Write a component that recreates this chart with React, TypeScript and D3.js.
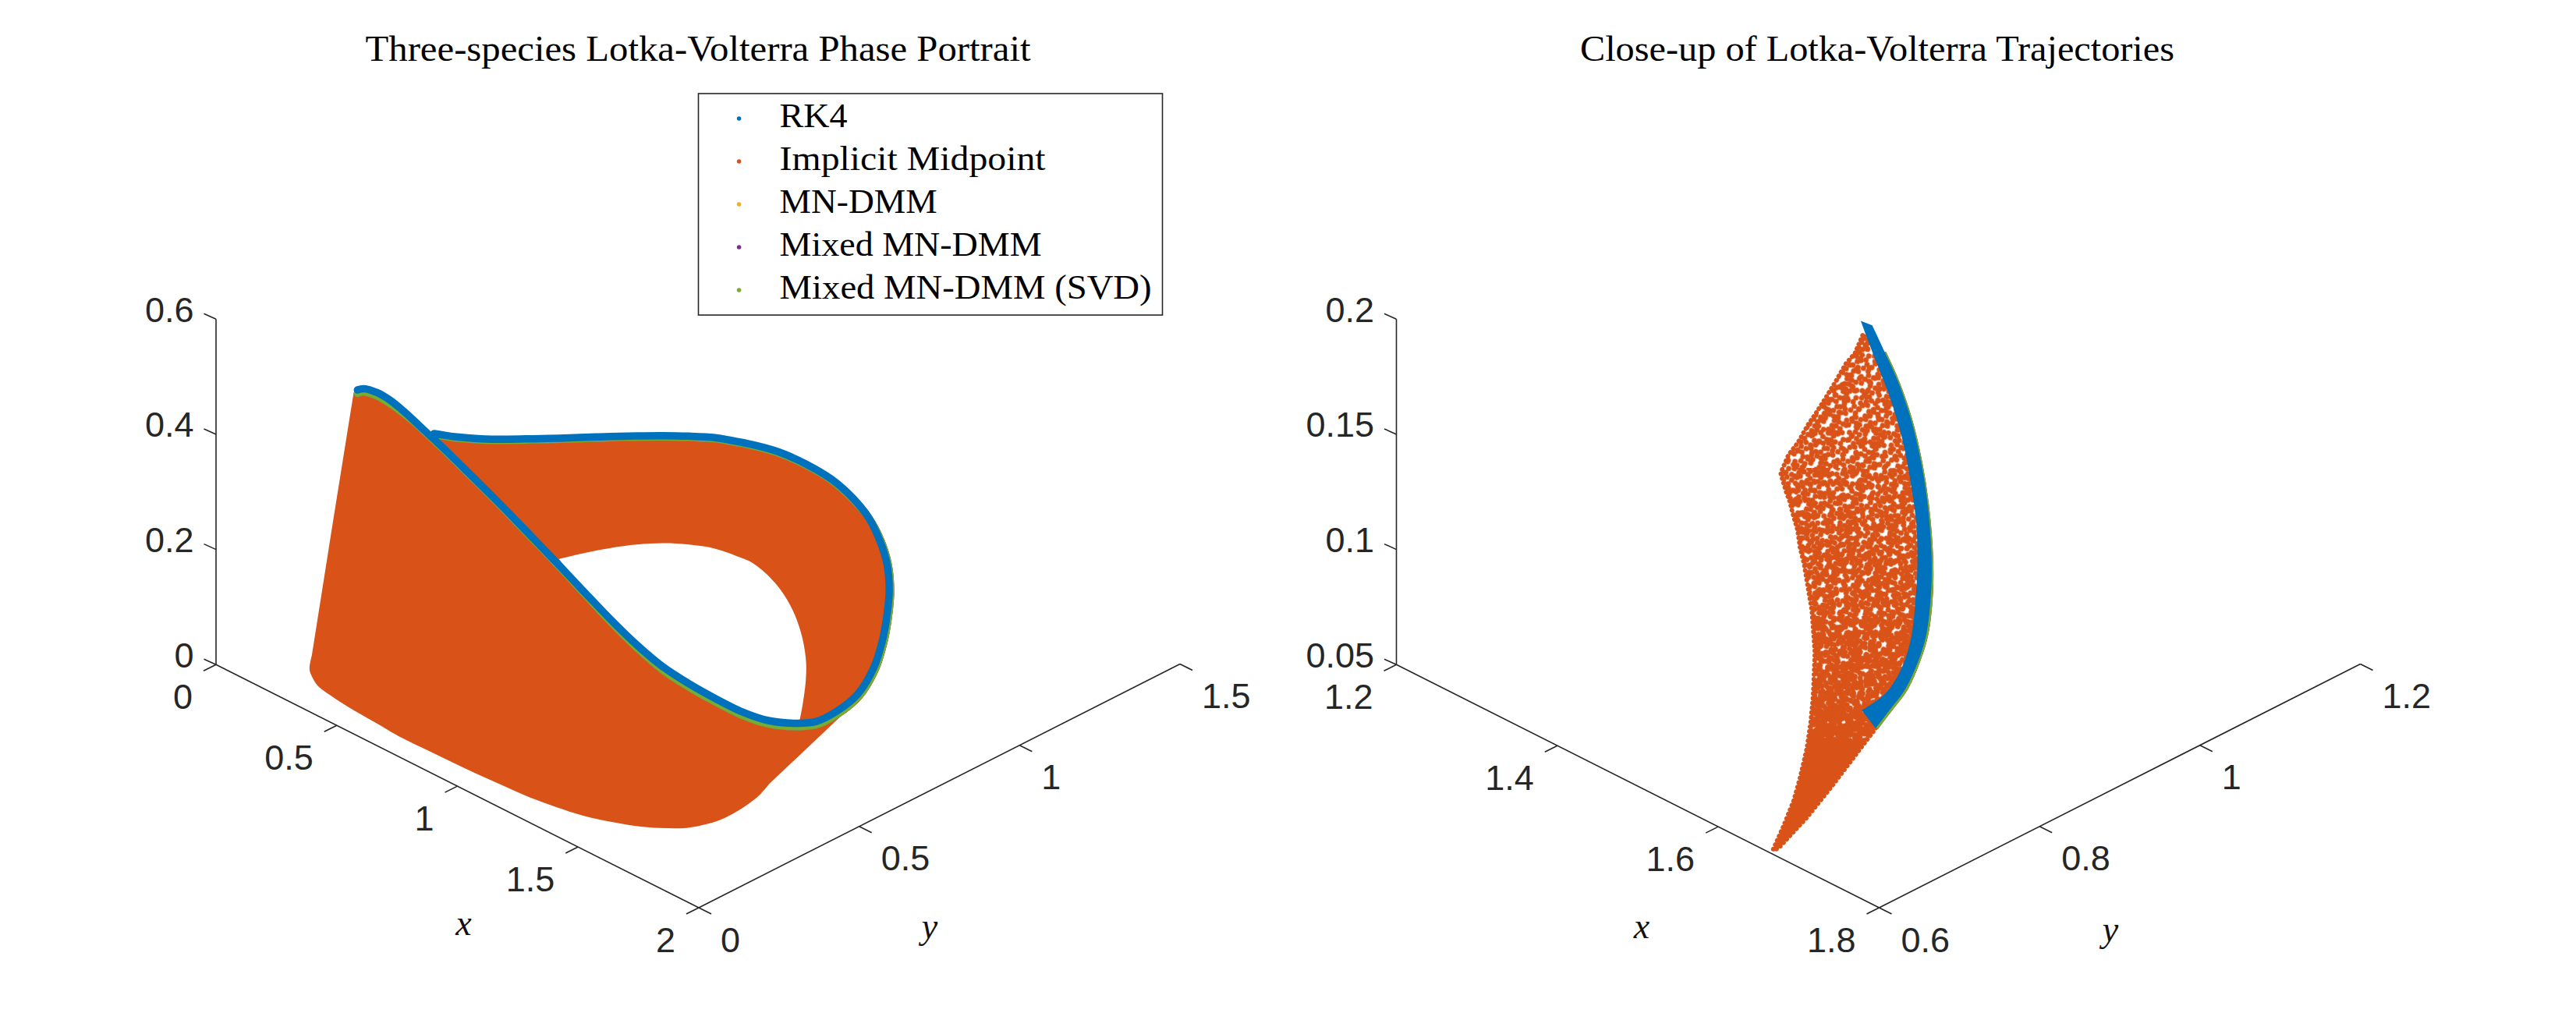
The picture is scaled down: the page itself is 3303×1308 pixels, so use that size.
import React from "react";
import * as d3 from "d3";

const xTicksL = [0, 0.5, 1, 1.5, 2];
const yTicksL = [0, 0.5, 1, 1.5];
const zTicksL = [0, 0.2, 0.4, 0.6];
const xTicksR = [1.2, 1.4, 1.6, 1.8];
const yTicksR = [0.6, 0.8, 1, 1.2];
const zTicksR = [0.05, 0.1, 0.15, 0.2];

const legendNames = ["RK4", "Implicit Midpoint", "MN-DMM", "Mixed MN-DMM", "Mixed MN-DMM (SVD)"];
const legendColors = ["#0072BD", "#D95319", "#EDB120", "#7E2F8E", "#77AC30"];
const legendWidths = [87, 341, 202, 336, 477];

// Left panel: RK4 orbit
const rk4X = [0.348, 0.356, 0.352, 0.34, 0.339, 0.343, 0.349, 0.355, 0.419, 0.509, 0.543, 0.635, 0.73, 0.825, 0.919, 1.03, 1.149, 1.249, 1.34, 1.423, 1.495, 1.568, 1.61, 1.622, 1.619, 1.569, 1.527, 1.466, 1.4, 1.335, 1.272, 1.199, 1.134, 1.075, 1.016, 0.973, 0.949, 0.92, 0.92, 0.895, 0.875, 0.857, 0.841, 0.826, 0.811, 0.783, 0.754, 0.71, 0.659, 0.615];
const rk4Y = [0.179, 0.193, 0.237, 0.287, 0.328, 0.365, 0.401, 0.437, 0.47, 0.484, 0.499, 0.51, 0.52, 0.529, 0.539, 0.537, 0.528, 0.534, 0.547, 0.565, 0.597, 0.635, 0.66, 0.716, 0.782, 0.869, 0.927, 0.988, 1.045, 1.087, 1.112, 1.131, 1.131, 1.111, 1.074, 1.025, 0.963, 0.903, 0.863, 0.8, 0.735, 0.667, 0.598, 0.529, 0.459, 0.399, 0.339, 0.291, 0.248, 0.217];
const rk4Z = [0.5, 0.5, 0.48, 0.45, 0.42, 0.39, 0.36, 0.33, 0.29, 0.26, 0.24, 0.21, 0.18, 0.15, 0.12, 0.1, 0.09, 0.08, 0.07, 0.06, 0.05, 0.05, 0.055, 0.06, 0.07, 0.08, 0.1, 0.115, 0.13, 0.15, 0.17, 0.19, 0.21, 0.235, 0.26, 0.285, 0.31, 0.33, 0.345, 0.36, 0.375, 0.39, 0.405, 0.42, 0.435, 0.445, 0.455, 0.46, 0.465, 0.47];
// Left panel: MN-DMM family, just under the RK4 orbit
const dmmX = rk4X;
const dmmY = [0.179, 0.193, 0.237, 0.287, 0.328, 0.365, 0.401, 0.437, 0.47, 0.484, 0.499, 0.51, 0.52, 0.529, 0.539, 0.537, 0.528, 0.534, 0.547, 0.565, 0.597, 0.635, 0.66, 0.716, 0.786, 0.873, 0.931, 0.992, 1.049, 1.091, 1.116, 1.133, 1.131, 1.111, 1.074, 1.025, 0.963, 0.903, 0.863, 0.8, 0.735, 0.667, 0.598, 0.529, 0.459, 0.399, 0.339, 0.291, 0.248, 0.217];
const dmmZ = [0.494, 0.494, 0.474, 0.444, 0.416, 0.388, 0.358, 0.328, 0.288, 0.258, 0.238, 0.208, 0.178, 0.147, 0.116, 0.095, 0.084, 0.074, 0.064, 0.054, 0.044, 0.044, 0.049, 0.054, 0.065, 0.075, 0.095, 0.11, 0.126, 0.147, 0.168, 0.188, 0.208, 0.233, 0.258, 0.283, 0.308, 0.328, 0.343, 0.358, 0.373, 0.388, 0.403, 0.418, 0.433, 0.443, 0.453, 0.458, 0.463, 0.468];
// Left panel: Implicit Midpoint swept surface, outer boundary and inner hole
const impX = [0.29, 0.285, 0.25, 0.231, 0.237, 0.251, 0.301, 0.363, 0.449, 0.565, 0.679, 0.787, 0.891, 0.996, 1.098, 1.198, 1.291, 1.38, 1.458, 1.53, 1.593, 1.647, 1.668, 1.685, 1.679, 1.665, 1.638, 1.507, 1.619, 1.569, 1.527, 1.466, 1.4, 1.335, 1.272, 1.199, 1.134, 1.075, 1.016, 0.973, 0.949, 0.92, 0.92, 0.895, 0.875, 0.857, 0.841, 0.826, 0.811, 0.783, 0.754, 0.71, 0.659, 0.615, 0.349, 0.343, 0.339, 0.34, 0.352, 0.356];
const impY = [0.22, 0.214, 0.176, 0.125, 0.113, 0.111, 0.092, 0.083, 0.075, 0.069, 0.063, 0.064, 0.066, 0.068, 0.073, 0.078, 0.089, 0.104, 0.126, 0.153, 0.186, 0.227, 0.259, 0.312, 0.389, 0.44, 0.493, 0.818, 0.782, 0.869, 0.927, 0.988, 1.045, 1.087, 1.112, 1.131, 1.131, 1.111, 1.074, 1.025, 0.963, 0.903, 0.863, 0.8, 0.735, 0.667, 0.598, 0.529, 0.459, 0.399, 0.339, 0.291, 0.248, 0.217, 0.401, 0.365, 0.328, 0.287, 0.237, 0.193];
const impZ = [0.475, 0.47, 0.25, 0.03, 0.01, 0, 0, 0, 0, 0, 0, 0, 0, 0, 0, 0, 0, 0, 0, 0, 0, 0, 0, 0, 0, 0, 0, 0, 0.07, 0.08, 0.1, 0.115, 0.13, 0.15, 0.17, 0.19, 0.21, 0.235, 0.26, 0.285, 0.31, 0.33, 0.345, 0.36, 0.375, 0.39, 0.405, 0.42, 0.435, 0.445, 0.455, 0.46, 0.465, 0.47, 0.36, 0.39, 0.42, 0.45, 0.48, 0.5];
const holeX = [0.704, 0.757, 0.814, 0.854, 0.903, 0.962, 1.032, 1.1, 1.13, 1.224, 1.282, 1.339, 1.409, 1.471, 1.524, 1.558, 1.495, 1.423, 1.34, 1.249, 1.149, 1.03, 0.919, 0.825];
const holeY = [0.539, 0.581, 0.618, 0.669, 0.714, 0.75, 0.778, 0.808, 0.827, 0.82, 0.826, 0.815, 0.778, 0.732, 0.682, 0.647, 0.597, 0.565, 0.547, 0.534, 0.528, 0.537, 0.539, 0.529];
const holeZ = [0.18, 0.19, 0.2, 0.2, 0.2, 0.2, 0.2, 0.19, 0.18, 0.17, 0.14, 0.11, 0.09, 0.08, 0.06, 0.05, 0.05, 0.06, 0.07, 0.08, 0.09, 0.1, 0.12, 0.15];

// Right panel: close-up, RK4 band edges
const closeOuterX = [1.4865, 1.4966, 1.5188, 1.5268, 1.535, 1.5414, 1.5455, 1.5479, 1.5476, 1.5447, 1.5398, 1.547, 1.563, 1.5771];
const closeOuterY = [0.8916, 0.8958, 0.8892, 0.8972, 0.9053, 0.9118, 0.9158, 0.9183, 0.9179, 0.915, 0.9102, 0.8867, 0.8512, 0.8192];
const closeOuterZ = [0.1982, 0.1973, 0.1907, 0.1783, 0.1619, 0.1428, 0.1247, 0.1021, 0.0863, 0.0683, 0.057, 0.05, 0.05, 0.05];
const closeInnerX = [1.5461, 1.5406, 1.5237, 1.5302, 1.5334, 1.5342, 1.5337, 1.5302, 1.5253, 1.5172, 1.5091, 1.5026];
const closeInnerY = [0.8331, 0.8673, 0.9037, 0.9101, 0.9134, 0.9142, 0.9137, 0.9101, 0.9053, 0.8972, 0.8891, 0.8826];
const closeInnerZ = [0.05, 0.05, 0.0508, 0.0643, 0.0846, 0.0948, 0.114, 0.132, 0.1501, 0.1693, 0.184, 0.1958];
// Right panel: MN-DMM family, along the outer edge of the RK4 band
const closeDmmX = [1.5188, 1.5268, 1.535, 1.5414, 1.5455, 1.5481, 1.5481, 1.5452, 1.5403, 1.5478, 1.5638, 1.5779];
const closeDmmY = [0.8892, 0.8972, 0.9053, 0.9118, 0.9158, 0.9185, 0.9184, 0.9155, 0.9107, 0.8875, 0.852, 0.82];
const closeDmmZ = [0.1907, 0.1783, 0.1619, 0.1428, 0.1247, 0.1021, 0.0863, 0.0683, 0.057, 0.05, 0.05, 0.05];
// Right panel: Implicit Midpoint cloud boundary
const closeImpX = [1.481, 1.4761, 1.4705, 1.464, 1.4575, 1.4518, 1.4469, 1.4405, 1.4348, 1.4299, 1.4332, 1.4356, 1.4372, 1.4405, 1.4421, 1.4445, 1.4469, 1.4494, 1.4513, 1.4991, 1.5296, 1.5592, 1.5903, 1.615, 1.6405, 1.6628, 1.6641, 1.6439, 1.6201, 1.5771, 1.5456, 1.5301, 1.5398, 1.5393, 1.533, 1.5218, 1.5097];
const closeImpY = [0.8994, 0.8946, 0.8889, 0.8824, 0.876, 0.8703, 0.8655, 0.859, 0.8534, 0.8485, 0.8518, 0.8542, 0.8558, 0.859, 0.8606, 0.8631, 0.8655, 0.8679, 0.8698, 0.8196, 0.7859, 0.7514, 0.712, 0.6791, 0.6406, 0.6052, 0.6104, 0.6664, 0.7225, 0.8192, 0.8723, 0.9062, 0.9159, 0.9154, 0.9091, 0.8979, 0.8858];
const closeImpZ = [0.1896, 0.1817, 0.1772, 0.1693, 0.1619, 0.1557, 0.1507, 0.1428, 0.1377, 0.1298, 0.1219, 0.1174, 0.1128, 0.105, 0.0971, 0.0903, 0.0801, 0.07, 0.0519, 0.05, 0.05, 0.05, 0.05, 0.05, 0.05, 0.05, 0.05, 0.05, 0.05, 0.05, 0.05, 0.0515, 0.0853, 0.1124, 0.1446, 0.1734, 0.1937];

// Texture tile for the dense scatter of the close-up cloud
const stippleTile: [number, number][] = [
  [3, 2], [9, 4], [22, 5], [29, 2], [35, 4], [42, 1], [54, 3],
  [1, 9], [7, 10], [13, 8], [26, 9], [33, 10], [45, 11], [51, 9],
  [4, 15], [17, 16], [24, 14], [31, 17], [37, 14], [43, 16], [55, 13],
  [2, 21], [8, 22], [15, 22], [28, 23], [34, 21], [47, 20], [53, 22],
  [5, 27], [18, 27], [25, 29], [38, 28], [44, 27], [50, 28],
  [1, 33], [8, 34], [15, 33], [22, 35], [35, 35], [41, 33], [53, 34],
  [4, 40], [10, 39], [24, 40], [31, 41], [37, 39], [44, 41], [50, 40],
  [2, 46], [14, 47], [21, 46], [27, 47], [40, 47], [47, 46], [53, 47],
  [5, 52], [11, 53], [18, 52], [30, 52], [37, 53], [43, 52], [55, 52],
];
// Each density layer: which dots of the tile it uses, its rotation, where it starts
const stippleLayers = [
  { id: "s0", part: 1, rot: 17, dx: 0, dy: 0, from: 380 },
  { id: "s1", part: 3, rot: -23, dx: 19, dy: 31, from: 380 },
  { id: "s2", part: 3, rot: 41, dx: 7, dy: 13, from: 600 },
  { id: "s3", part: 3, rot: -57, dx: 29, dy: 5, from: 700 },
  { id: "s4", part: 2, rot: 71, dx: 11, dy: 23, from: 790 },
  { id: "s5", part: 2, rot: -11, dx: 37, dy: 17, from: 860 },
  { id: "s6", part: 1, rot: 29, dx: 3, dy: 41, from: 910 },
];

const INK = "#262626";
const SANS = "'Liberation Sans', Arial, sans-serif";
const SERIF = "'Liberation Serif', 'Times New Roman', serif";

function makeProjection(ox: number, xd: number[], yd: number[], zd: number[]) {
  const oy = 852.3;
  const xH = d3.scaleLinear().domain(xd).range([0, 619]);
  const xV = d3.scaleLinear().domain(xd).range([0, 311.7]);
  const yH = d3.scaleLinear().domain(yd).range([0, 617]);
  const yV = d3.scaleLinear().domain(yd).range([0, -312.5]);
  const zV = d3.scaleLinear().domain(zd).range([0, -443]);
  return (x: number, y: number, z: number): [number, number] => [
    ox + xH(x) + yH(y),
    oy + xV(x) + yV(y) + zV(z),
  ];
}

type Proj = ReturnType<typeof makeProjection>;
type Pt = [number, number];
const pts = (p: Proj, xs: number[], ys: number[], zs: number[]) => xs.map((x, i) => p(x, ys[i], zs[i]));
const smooth = d3.line().curve(d3.curveCatmullRom.alpha(0.5));
const straight = d3.line();

// Straight outline with a smoothed stretch between two vertices
function mixedOutline(all: Pt[], from: number, to: number) {
  const head = straight(all.slice(0, from + 1)) as string;
  const mid = (smooth(all.slice(from, to + 1)) as string).slice(1);
  const tail = (straight(all.slice(to)) as string).slice(1);
  return head + "L" + mid + "L" + tail + "Z";
}

function Axes({ p, xt, yt, zt, xl, yl }: { p: Proj; xt: number[]; yt: number[]; zt: number[]; xl: [number, number]; yl: [number, number] }) {
  const x0 = xt[0], x1 = xt[xt.length - 1];
  const y0 = yt[0], y1 = yt[yt.length - 1];
  const z0 = zt[0], z1 = zt[zt.length - 1];
  const a = p(x0, y0, z0), b = p(x1, y0, z0), c = p(x1, y1, z0), d = p(x0, y0, z1);
  const seg = (s: [number, number], e: [number, number], k: string) => (
    <line key={k} x1={s[0]} y1={s[1]} x2={e[0]} y2={e[1]} stroke={INK} strokeWidth={1.6} />
  );
  const label = { dominantBaseline: "central" as const, fontFamily: SANS, fontSize: 45, fill: INK };
  return (
    <g>
      {seg(a, b, "xa")}
      {seg(b, c, "ya")}
      {seg(a, d, "za")}
      {xt.map((v) => {
        const q = p(v, y0, z0);
        return (
          <g key={"x" + v}>
            {seg(q, [q[0] - 16, q[1] + 8], "t")}
            <text x={q[0] - 30} y={q[1] + 41} textAnchor="end" {...label}>{String(v)}</text>
          </g>
        );
      })}
      {yt.map((v) => {
        const q = p(x1, v, z0);
        return (
          <g key={"y" + v}>
            {seg(q, [q[0] + 16, q[1] + 8], "t")}
            <text x={q[0] + 28} y={q[1] + 41} textAnchor="start" {...label}>{String(v)}</text>
          </g>
        );
      })}
      {zt.map((v) => {
        const q = p(x0, y0, v);
        return (
          <g key={"z" + v}>
            {seg(q, [q[0] - 15.5, q[1] - 7], "t")}
            <text x={q[0] - 28.5} y={q[1] - 12} textAnchor="end" {...label}>{String(v)}</text>
          </g>
        );
      })}
      <text x={xl[0]} y={xl[1]} textAnchor="middle" dominantBaseline="central" fontFamily={SERIF} fontStyle="italic" fontSize={46} fill="#111">x</text>
      <text x={yl[0]} y={yl[1]} textAnchor="middle" dominantBaseline="central" fontFamily={SERIF} fontStyle="italic" fontSize={46} fill="#111">y</text>
    </g>
  );
}

function LeftPlot() {
  const p = makeProjection(277, [0, 2], [0, 1.5], [0, 0.6]);
  const rk = smooth(pts(p, rk4X, rk4Y, rk4Z)) as string;
  const dmm = smooth(pts(p, dmmX, dmmY, dmmZ)) as string;
  const body = mixedOutline(pts(p, impX, impY, impZ) as Pt[], 3, 26) + mixedOutline(pts(p, holeX, holeY, holeZ) as Pt[], 0, 15);
  return (
    <g>
      <Axes p={p} xt={xTicksL} yt={yTicksL} zt={zTicksL} xl={[594.5, 1183.5]} yl={[1192, 1187]} />
      <path d={body} fill={legendColors[1]} fillRule="evenodd" />
      {[2, 3, 4].map((i) => (
        <path key={i} d={dmm} fill="none" stroke={legendColors[i]} strokeWidth={9.5} strokeLinecap="round" />
      ))}
      <path d={rk} fill="none" stroke={legendColors[0]} strokeWidth={9.5} strokeLinecap="round" />
    </g>
  );
}

function RightPlot() {
  const p = makeProjection(1790.5, [1.2, 1.8], [0.6, 1.2], [0.05, 0.2]);
  const outerPts = pts(p, closeOuterX, closeOuterY, closeOuterZ);
  const outer = smooth(outerPts.slice(1)) as string;
  const inner = smooth(pts(p, closeInnerX, closeInnerY, closeInnerZ)) as string;
  const band = `M${outerPts[0][0]},${outerPts[0][1]}L` + outer.slice(1) + "L" + inner.slice(1) + "Z";
  const dmm = smooth(pts(p, closeDmmX, closeDmmY, closeDmmZ)) as string;
  const cloud = (straight(pts(p, closeImpX, closeImpY, closeImpZ)) as string) + "Z";
  const wraps = [0, -56, 56];
  const tileFor = (part: number) =>
    stippleTile
      .filter((_, i) => i % part === 0 || part === 1)
      .flatMap(([x, y], i) =>
        wraps.flatMap((dx) => wraps.map((dy) => (
          <circle key={`${i}_${dx}_${dy}`} cx={x + dx} cy={y + dy} r={3.5} fill={legendColors[1]} />
        )))
      );
  return (
    <g>
      <Axes p={p} xt={xTicksR} yt={yTicksR} zt={zTicksR} xl={[2105, 1187]} yl={[2706, 1191]} />
      <defs>
        {stippleLayers.map((l) => (
          <pattern key={l.id} id={l.id} patternUnits="userSpaceOnUse" width={56} height={56} patternTransform={`rotate(${l.rot}) translate(${l.dx} ${l.dy})`}>
            {tileFor(l.part)}
          </pattern>
        ))}
        {stippleLayers.map((l) => (
          <clipPath key={l.id} id={l.id + "c"}><rect x={2200} y={l.from} width={400} height={1200 - l.from} /></clipPath>
        ))}
        <clipPath id="solidBand"><rect x={2200} y={950} width={400} height={250} /></clipPath>
      </defs>
      {stippleLayers.map((l) => (
        <path key={l.id} d={cloud} fill={`url(#${l.id})`} clipPath={`url(#${l.id}c)`} />
      ))}
      <path d={cloud} fill="none" stroke={legendColors[1]} strokeWidth={6} strokeLinecap="round" strokeDasharray="0.1 6" />
      <path d={cloud} fill={legendColors[1]} clipPath="url(#solidBand)" />
      {[2, 3, 4].map((i) => (
        <path key={i} d={dmm} fill="none" stroke={legendColors[i]} strokeWidth={3} />
      ))}
      <path d={band} fill={legendColors[0]} />
    </g>
  );
}

function Legend() {
  const rowY = d3.scalePoint<string>().domain(legendNames).range([152, 372]);
  return (
    <g>
      <rect x={895.5} y={120} width={595} height={284} fill="#fff" stroke={INK} strokeWidth={1.6} />
      {legendNames.map((n, i) => (
        <g key={n}>
          <circle cx={947.6} cy={rowY(n)} r={2.8} fill={legendColors[i]} />
          <text x={999.6} y={(rowY(n) as number) + 11} fontFamily={SERIF} fontSize={45} fill="#000" textLength={legendWidths[i]} lengthAdjust="spacingAndGlyphs">{n}</text>
        </g>
      ))}
    </g>
  );
}

export default function App() {
  return (
    <svg width={3303} height={1308} viewBox="0 0 3303 1308" style={{ position: "absolute", left: 0, top: 0, background: "#fff" }}>
      <text x={895} y={78} textAnchor="middle" fontFamily={SERIF} fontSize={46} fill="#000" textLength={853} lengthAdjust="spacingAndGlyphs">Three-species Lotka-Volterra Phase Portrait</text>
      <text x={2407} y={78} textAnchor="middle" fontFamily={SERIF} fontSize={46} fill="#000" textLength={762} lengthAdjust="spacingAndGlyphs">Close-up of Lotka-Volterra Trajectories</text>
      <LeftPlot />
      <RightPlot />
      <Legend />
    </svg>
  );
}
